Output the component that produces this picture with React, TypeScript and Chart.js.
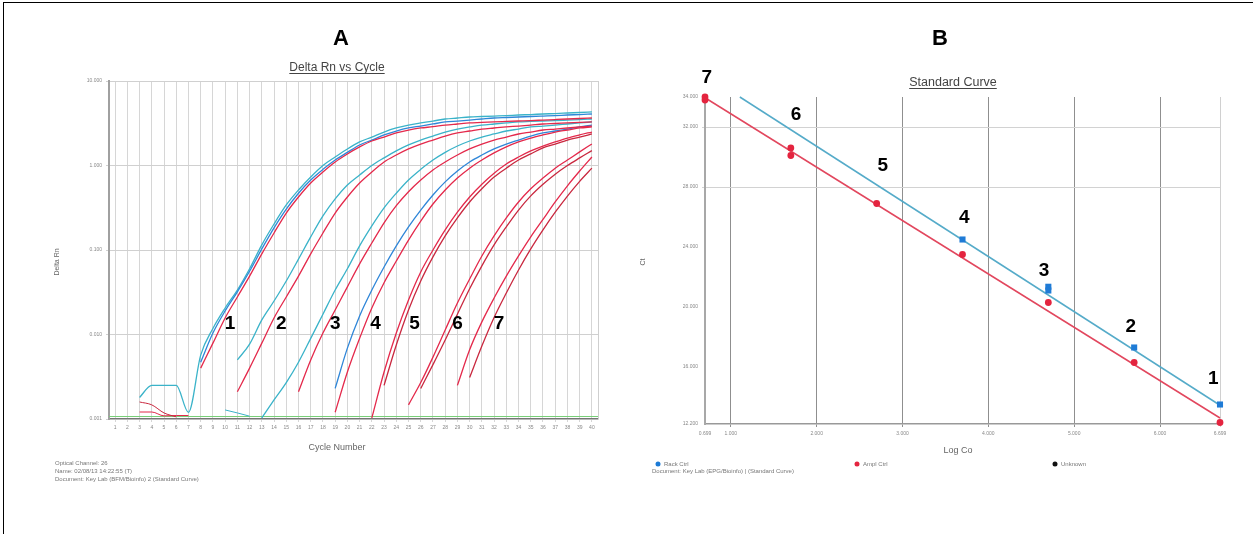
import React, { useEffect, useRef } from "react";
import { Chart, registerables } from "chart.js";
Chart.register(...registerables);

const FONT = '"Liberation Sans", Arial, Helvetica, sans-serif';

// ---------------- Panel A : Delta Rn vs Cycle ----------------
const cycleTicks = [1, 2, 3, 4, 5, 6, 7, 8, 9, 10, 11, 12, 13, 14, 15, 16, 17, 18, 19, 20, 21, 22, 23, 24, 25, 26, 27, 28, 29, 30, 31, 32, 33, 34, 35, 36, 37, 38, 39, 40];
const deltaRnTicks = [0.001, 0.01, 0.1, 1, 10];

// each curve: first cycle + Delta Rn per cycle
const g1TealStart = 3;
const g1Teal = [0.0018, 0.0025, 0.0025, 0.0025, 0.0012, 0.0057, 0.0118, 0.0206, 0.0336, 0.06, 0.115, 0.203, 0.341, 0.513, 0.731, 1.0, 1.26, 1.57, 1.9, 2.17, 2.49, 2.78, 3.01, 3.19, 3.36, 3.55, 3.65, 3.75, 3.8, 3.85, 3.9, 3.96, 4.01, 4.07, 4.12, 4.18, 4.24, 4.3];
const g1BlueStart = 8;
const g1Blue = [0.0047, 0.0104, 0.019, 0.032, 0.056, 0.103, 0.183, 0.305, 0.47, 0.674, 0.9, 1.16, 1.43, 1.75, 2.0, 2.3, 2.56, 2.78, 2.93, 3.1, 3.28, 3.36, 3.45, 3.55, 3.65, 3.7, 3.75, 3.8, 3.85, 3.9, 3.96, 4.01, 4.07];
const g1RedStart = 8;
const g1Red = [0.004, 0.0079, 0.0157, 0.0278, 0.049, 0.09, 0.159, 0.274, 0.424, 0.621, 0.838, 1.1, 1.37, 1.66, 1.95, 2.17, 2.43, 2.63, 2.78, 2.88, 3.01, 3.1, 3.19, 3.23, 3.28, 3.32, 3.36, 3.4, 3.45, 3.5, 3.55, 3.6, 3.65];
const g2TealStart = 11;
const g2Teal = [0.005, 0.0077, 0.0149, 0.0249, 0.043, 0.078, 0.143, 0.253, 0.402, 0.588, 0.772, 1.0, 1.23, 1.49, 1.75, 2.0, 2.23, 2.49, 2.7, 2.86, 3.01, 3.1, 3.19, 3.28, 3.32, 3.36, 3.4, 3.45, 3.5, 3.55];
const g2RedStart = 11;
const g2Red = [0.0021, 0.004, 0.0079, 0.0157, 0.0278, 0.049, 0.09, 0.159, 0.274, 0.424, 0.621, 0.838, 1.1, 1.33, 1.57, 1.79, 2.0, 2.23, 2.43, 2.56, 2.7, 2.78, 2.86, 2.93, 3.01, 3.1, 3.14, 3.19, 3.23, 3.28];
const g3TealStart = 13;
const g3Teal = [0.00103, 0.00168, 0.0027, 0.0047, 0.009, 0.0174, 0.0336, 0.06, 0.112, 0.193, 0.315, 0.47, 0.674, 0.9, 1.16, 1.43, 1.7, 1.95, 2.17, 2.36, 2.56, 2.7, 2.86, 2.93, 3.01, 3.1, 3.19, 3.28];
const g3RedStart = 16;
const g3Red = [0.0021, 0.005, 0.0104, 0.0195, 0.0366, 0.0684, 0.121, 0.21, 0.335, 0.49, 0.674, 0.885, 1.1, 1.33, 1.57, 1.79, 2.0, 2.17, 2.36, 2.49, 2.63, 2.7, 2.78, 2.86, 2.93];
const g4BlueStart = 19;
const g4Blue = [0.0023, 0.0069, 0.0166, 0.0336, 0.063, 0.112, 0.188, 0.297, 0.448, 0.64, 0.86, 1.1, 1.33, 1.57, 1.79, 2.0, 2.23, 2.43, 2.56, 2.7, 2.86, 3.01];
const g4RedStart = 19;
const g4Red = [0.0012, 0.0036, 0.009, 0.0206, 0.041, 0.074, 0.131, 0.22, 0.35, 0.513, 0.71, 0.93, 1.16, 1.41, 1.66, 1.9, 2.11, 2.3, 2.49, 2.63, 2.78, 2.86];
const g5RedAStart = 22;
const g5RedA = [0.00103, 0.0036, 0.0104, 0.0256, 0.055, 0.1, 0.173, 0.28, 0.424, 0.6, 0.81, 1.04, 1.26, 1.49, 1.7, 1.9, 2.11, 2.3, 2.49];
const g5RedBStart = 23;
const g5RedB = [0.0025, 0.0075, 0.0195, 0.043, 0.083, 0.147, 0.24, 0.37, 0.53, 0.73, 0.93, 1.16, 1.37, 1.62, 1.79, 2.0, 2.17, 2.36];
const g6RedAStart = 25;
const g6RedA = [0.00147, 0.0027, 0.0054, 0.0113, 0.0236, 0.0454, 0.085, 0.147, 0.24, 0.37, 0.53, 0.71, 0.93, 1.16, 1.45, 1.8];
const g6RedBStart = 26;
const g6RedB = [0.0023, 0.0044, 0.0086, 0.0174, 0.0348, 0.065, 0.115, 0.188, 0.297, 0.437, 0.6, 0.79, 1.0, 1.23, 1.5];
const g7RedAStart = 29;
const g7RedA = [0.0025, 0.0066, 0.0141, 0.027, 0.049, 0.085, 0.143, 0.23, 0.37, 0.575, 0.86, 1.26];
const g7RedBStart = 30;
const g7RedB = [0.0031, 0.0073, 0.0159, 0.031, 0.058, 0.103, 0.173, 0.28, 0.435, 0.65, 0.93];
const noiseRedAStart = 3;
const noiseRedA = [0.00159, 0.00147, 0.00118, 0.00106];
const noiseRedBStart = 3;
const noiseRedB = [0.00121, 0.00121, 0.00109, 0.0011, 0.0011];
const noiseTealStart = 10;
const noiseTeal = [0.00128, 0.00118, 0.00108];
const thresholdCycles = [0.5, 40.5];
const thresholdValue = 0.00107;

const curveLabelsA = ["1", "2", "3", "4", "5", "6", "7"];
const curveLabelCycles = [10.4, 14.6, 19.0, 22.3, 25.5, 29.0, 32.4];
const curveLabelValue = 0.0135;

// ---------------- Panel B : Standard Curve ----------------
const logCoTicks = [0.699, 1, 2, 3, 4, 5, 6, 6.699];
const ctTicks = [12.2, 16, 20, 24, 28, 32, 34];
const redLogCo = [0.699, 0.699, 1.699, 1.699, 2.699, 3.699, 4.699, 5.699, 6.699];
const redCt = [34.0, 33.8, 30.6, 30.1, 26.9, 23.5, 20.3, 16.3, 12.3];
const blueLogCo = [3.699, 4.699, 4.699, 5.699, 6.699];
const blueCt = [24.5, 21.35, 21.1, 17.3, 13.5];
const redFitLogCo = [0.699, 6.699];
const redFitCt = [33.95, 12.6];
const blueFitLogCo = [1.105, 6.699];
const blueFitCt = [34.0, 13.45];
const dilutionLabels = ["1", "2", "3", "4", "5", "6", "7"];
const dilutionLabelLogCo = [6.62, 5.66, 4.65, 3.72, 2.77, 1.76, 0.72];
const dilutionLabelCt = [15.2, 18.67, 22.4, 25.93, 29.4, 32.8, 35.27];

const toPts = (start: number, vals: number[]) => vals.map((v, i) => ({ x: start + i, y: v }));
const zipPts = (xs: number[], ys: number[]) => xs.map((x, i) => ({ x, y: ys[i] }));

function txt(ctx: CanvasRenderingContext2D, s: string, x: number, y: number, font: string, color: string, align: CanvasTextAlign = "center", base: CanvasTextBaseline = "alphabetic") {
  ctx.font = font;
  ctx.fillStyle = color;
  ctx.textAlign = align;
  ctx.textBaseline = base;
  ctx.fillText(s, x, y);
}
function underlined(ctx: CanvasRenderingContext2D, s: string, cx: number, y: number, font: string, color: string) {
  txt(ctx, s, cx, y, font, color);
  const w = ctx.measureText(s).width;
  ctx.strokeStyle = color;
  ctx.lineWidth = 1;
  ctx.beginPath();
  ctx.moveTo(cx - w / 2, y + 2.5);
  ctx.lineTo(cx + w / 2, y + 2.5);
  ctx.stroke();
}
function rotated(ctx: CanvasRenderingContext2D, s: string, x: number, y: number, font: string, color: string) {
  ctx.save();
  ctx.translate(x, y);
  ctx.rotate(-Math.PI / 2);
  txt(ctx, s, 0, 0, font, color, "center", "middle");
  ctx.restore();
}

const TEAL = "#3ab3c9";
const BLUE = "#2f86d8";
const RED = "#e4294b";
const DARKRED = "#c9283f";

export default function App() {
  const leftRef = useRef<HTMLCanvasElement>(null);
  const rightRef = useRef<HTMLCanvasElement>(null);

  useEffect(() => {
    const curve = (start: number, vals: number[], color: string, width = 1.3) => ({
      data: toPts(start, vals),
      showLine: true,
      borderColor: color,
      backgroundColor: color,
      borderWidth: width,
      pointRadius: 0,
      cubicInterpolationMode: "monotone" as const,
    });

    const panelA = {
      id: "panelA",
      afterDraw(chart: any) {
        const ctx: CanvasRenderingContext2D = chart.ctx;
        const a = chart.chartArea;
        const xs = chart.scales.x;
        const ys = chart.scales.y;
        ctx.save();
        ctx.strokeStyle = "#cfcfcf";
        ctx.lineWidth = 1;
        ctx.beginPath();
        ctx.moveTo(a.right + 0.5, a.top);
        ctx.lineTo(a.right + 0.5, a.bottom);
        ctx.stroke();
        txt(ctx, "A", 341, 45, `bold 22px ${FONT}`, "#000");
        underlined(ctx, "Delta Rn vs Cycle", 337, 71, `12px ${FONT}`, "#444");
        rotated(ctx, "Delta Rn", 57, 262, `7px ${FONT}`, "#666");
        txt(ctx, "Cycle Number", 337, 450, `9px ${FONT}`, "#666");
        txt(ctx, "Optical Channel: 26", 55, 465, `6px ${FONT}`, "#777", "left");
        txt(ctx, "Name: 02/08/13 14:22:55 (T)", 55, 473, `6px ${FONT}`, "#777", "left");
        txt(ctx, "Document: Key Lab (BFM/Bioinfo) 2 (Standard Curve)", 55, 481, `6px ${FONT}`, "#777", "left");
        curveLabelsA.forEach((s, i) => {
          txt(ctx, s, xs.getPixelForValue(curveLabelCycles[i]), ys.getPixelForValue(curveLabelValue), `bold 19px ${FONT}`, "#000", "center", "middle");
        });
        ctx.restore();
      },
    };

    const c1 = new Chart(leftRef.current as HTMLCanvasElement, {
      type: "scatter",
      data: {
        datasets: [
          curve(g1RedStart, g1Red, RED),
          curve(g2RedStart, g2Red, RED),
          curve(g3RedStart, g3Red, RED),
          curve(g4RedStart, g4Red, RED),
          curve(g5RedAStart, g5RedA, RED),
          curve(g5RedBStart, g5RedB, DARKRED),
          curve(g6RedAStart, g6RedA, RED),
          curve(g6RedBStart, g6RedB, DARKRED),
          curve(g7RedAStart, g7RedA, RED),
          curve(g7RedBStart, g7RedB, DARKRED),
          curve(g1BlueStart, g1Blue, BLUE),
          curve(g4BlueStart, g4Blue, BLUE),
          curve(g1TealStart, g1Teal, TEAL),
          curve(g2TealStart, g2Teal, TEAL),
          curve(g3TealStart, g3Teal, TEAL),
          curve(noiseRedAStart, noiseRedA, DARKRED, 1),
          curve(noiseRedBStart, noiseRedB, RED, 1),
          curve(noiseTealStart, noiseTeal, TEAL, 1),
          {
            data: thresholdCycles.map((c) => ({ x: c, y: thresholdValue })),
            showLine: true,
            borderColor: "#78cf78",
            borderWidth: 1.2,
            pointRadius: 0,
          },
        ] as any,
      },
      options: {
        responsive: false,
        animation: false,
        devicePixelRatio: 1,
        layout: { padding: { left: 49, right: 22, top: 81, bottom: 75 } },
        plugins: { legend: { display: false }, tooltip: { enabled: false } },
        scales: {
          x: {
            type: "linear",
            min: 0.5,
            max: 40.5,
            afterBuildTicks: (s: any) => {
              s.ticks = cycleTicks.map((v) => ({ value: v }));
            },
            afterFit: (s: any) => {
              s.height = 40;
            },
            ticks: { font: { size: 5, family: FONT }, color: "#888", padding: 3, maxRotation: 0, autoSkip: false, callback: (v: any) => String(v) },
            grid: { color: "#d6d6d6", tickLength: 3 },
            border: { color: "#777", width: 1.2 },
          },
          y: {
            type: "logarithmic",
            min: 0.001,
            max: 10,
            afterBuildTicks: (s: any) => {
              s.ticks = deltaRnTicks.map((v) => ({ value: v }));
            },
            afterFit: (s: any) => {
              s.width = 60;
            },
            ticks: { font: { size: 5, family: FONT }, color: "#888", padding: 4, callback: (v: any) => Number(v).toFixed(3) },
            grid: { color: "#d0d0d0", tickLength: 3 },
            border: { color: "#a0a0a0", width: 2 },
          },
        },
      } as any,
      plugins: [panelA],
    });

    const panelB = {
      id: "panelB",
      afterDraw(chart: any) {
        const ctx: CanvasRenderingContext2D = chart.ctx;
        const xs = chart.scales.x;
        const ys = chart.scales.y;
        ctx.save();
        txt(ctx, "B", 320, 45, `bold 22px ${FONT}`, "#000");
        underlined(ctx, "Standard Curve", 333, 86, `12.5px ${FONT}`, "#444");
        rotated(ctx, "Ct", 23, 262, `7px ${FONT}`, "#666");
        txt(ctx, "Log Co", 338, 453, `9px ${FONT}`, "#666");
        const legend = [
          { c: "#1c7ad6", s: "Rack Ctrl", x: 38 },
          { c: "#e4243f", s: "Ampl Ctrl", x: 237 },
          { c: "#111", s: "Unknown", x: 435 },
        ];
        legend.forEach((l) => {
          ctx.fillStyle = l.c;
          ctx.beginPath();
          ctx.arc(l.x, 464, 2.5, 0, Math.PI * 2);
          ctx.fill();
          txt(ctx, l.s, l.x + 6, 466, `6px ${FONT}`, "#777", "left");
        });
        txt(ctx, "Document: Key Lab (EPG/Bioinfo) | (Standard Curve)", 32, 473, `6px ${FONT}`, "#777", "left");
        dilutionLabels.forEach((s, i) => {
          txt(ctx, s, xs.getPixelForValue(dilutionLabelLogCo[i]), ys.getPixelForValue(dilutionLabelCt[i]), `bold 19px ${FONT}`, "#000", "center", "middle");
        });
        ctx.restore();
      },
    };

    const c2 = new Chart(rightRef.current as HTMLCanvasElement, {
      type: "scatter",
      data: {
        datasets: [
          {
            data: zipPts(blueLogCo, blueCt),
            pointStyle: "rect",
            pointRadius: 4.3,
            backgroundColor: "#1f7bd6",
            borderColor: "#1f7bd6",
            borderWidth: 0,
            clip: false,
            order: 0,
          },
          {
            data: zipPts(redLogCo, redCt),
            pointStyle: "circle",
            pointRadius: 3.4,
            backgroundColor: "#e4243f",
            borderColor: "#e4243f",
            borderWidth: 0,
            clip: false,
            order: 0,
          },
          {
            data: zipPts(blueFitLogCo, blueFitCt),
            showLine: true,
            pointRadius: 0,
            borderColor: "#55abc9",
            borderWidth: 1.5,
            clip: false,
            order: 1,
          },
          {
            data: zipPts(redFitLogCo, redFitCt),
            showLine: true,
            pointRadius: 0,
            borderColor: "#e2475e",
            borderWidth: 1.5,
            clip: false,
            order: 1,
          },
        ] as any,
      },
      options: {
        responsive: false,
        animation: false,
        devicePixelRatio: 1,
        layout: { padding: { left: 40, right: 33, top: 97, bottom: 80 } },
        plugins: { legend: { display: false }, tooltip: { enabled: false } },
        scales: {
          x: {
            type: "linear",
            min: 0.699,
            max: 6.699,
            afterBuildTicks: (s: any) => {
              s.ticks = logCoTicks.map((v) => ({ value: v }));
            },
            afterFit: (s: any) => {
              s.height = 30;
            },
            ticks: { font: { size: 5, family: FONT }, color: "#888", padding: 4, maxRotation: 0, autoSkip: false, callback: (v: any) => Number(v).toFixed(3) },
            grid: {
              color: (c: any) => (c.tick && c.tick.value === 6.699 ? "#d0d0d0" : c.tick && c.tick.value === 0.699 ? "rgba(0,0,0,0)" : "#8f8f8f"),
              tickLength: 3,
            },
            border: { color: "#999", width: 1.5 },
          },
          y: {
            type: "linear",
            min: 12.2,
            max: 34,
            afterBuildTicks: (s: any) => {
              s.ticks = ctTicks.map((v) => ({ value: v }));
            },
            afterFit: (s: any) => {
              s.width = 45;
            },
            ticks: { font: { size: 5, family: FONT }, color: "#888", padding: 4, callback: (v: any) => Number(v).toFixed(3) },
            grid: {
              color: (c: any) => (c.tick && (c.tick.value === 28 || c.tick.value === 32) ? "#d2d2d2" : "rgba(0,0,0,0)"),
              tickLength: 3,
            },
            border: { color: "#a8a8a8", width: 2 },
          },
        },
      } as any,
      plugins: [panelB],
    });

    return () => {
      c1.destroy();
      c2.destroy();
    };
  }, []);

  return (
    <div style={{ position: "absolute", left: 0, top: 0, width: 1253, height: 534, overflow: "hidden", background: "#fff" }}>
      <div style={{ position: "absolute", left: 3, top: 2, width: 1260, height: 540, borderTop: "1.5px solid #000", borderLeft: "1.5px solid #000" }} />
      <canvas ref={leftRef} width={620} height={534} style={{ position: "absolute", left: 0, top: 0 }} />
      <canvas ref={rightRef} width={633} height={534} style={{ position: "absolute", left: 620, top: 0 }} />
    </div>
  );
}
